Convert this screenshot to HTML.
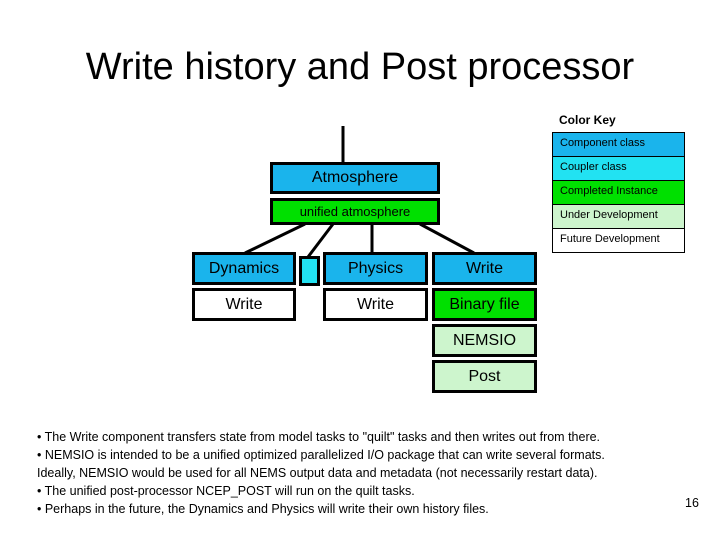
<!DOCTYPE html>
<html><head><meta charset="utf-8"><style>
body{margin:0;width:720px;height:540px;background:#fff;position:relative;font-family:"Liberation Sans",sans-serif;overflow:hidden}
.t{position:absolute;white-space:nowrap}
.b{position:absolute;box-sizing:border-box;border:3px solid #000;text-align:center;color:#000;white-space:nowrap}
.l{position:absolute;box-sizing:border-box;border:1.5px solid #000;font-size:11px;padding-left:7px;line-height:21px}
.blue{background:#1ab4ec}.cyan{background:#22e2f2}.green{background:#00e000}.lg{background:#cdf5cd}.w{background:#fff}
</style></head><body>
<div class="t" style="left:0;width:720px;text-align:center;top:46px;font-size:38px">Write history and Post processor</div>
<div class="t" style="left:559px;top:113px;font-size:12px;font-weight:bold">Color Key</div>
<div class="l blue" style="left:552px;top:132px;width:133px;height:25px">Component class</div>
<div class="l cyan" style="left:552px;top:156px;width:133px;height:25px">Coupler class</div>
<div class="l green" style="left:552px;top:180px;width:133px;height:25px">Completed Instance</div>
<div class="l lg" style="left:552px;top:204px;width:133px;height:25px">Under Development</div>
<div class="l w" style="left:552px;top:228px;width:133px;height:25px">Future Development</div>
<svg style="position:absolute;left:0;top:0" width="720" height="540">
<g stroke="#000" stroke-width="3">
<line x1="343" y1="126" x2="343" y2="163"/>
<line x1="305" y1="224" x2="245" y2="253"/>
<line x1="333" y1="224" x2="308" y2="257"/>
<line x1="372" y1="224" x2="372" y2="253"/>
<line x1="420" y1="224" x2="474" y2="253"/>
</g></svg>
<div class="b blue" style="left:270px;top:162px;width:170px;height:32px;font-size:16px;line-height:26px">Atmosphere</div>
<div class="b green" style="left:270px;top:198px;width:170px;height:27px;font-size:13px;line-height:21px">unified atmosphere</div>
<div class="b blue" style="left:192px;top:252px;width:104px;height:33px;font-size:16px;line-height:27px">Dynamics</div>
<div class="b w" style="left:192px;top:288px;width:104px;height:33px;font-size:16px;line-height:27px">Write</div>
<div class="b cyan" style="left:299px;top:256px;width:21px;height:30px"></div>
<div class="b blue" style="left:323px;top:252px;width:105px;height:33px;font-size:16px;line-height:27px">Physics</div>
<div class="b w" style="left:323px;top:288px;width:105px;height:33px;font-size:16px;line-height:27px">Write</div>
<div class="b blue" style="left:432px;top:252px;width:105px;height:33px;font-size:16px;line-height:27px">Write</div>
<div class="b green" style="left:432px;top:288px;width:105px;height:33px;font-size:16px;line-height:27px">Binary file</div>
<div class="b lg" style="left:432px;top:324px;width:105px;height:33px;font-size:16px;line-height:27px">NEMSIO</div>
<div class="b lg" style="left:432px;top:360px;width:105px;height:33px;font-size:16px;line-height:27px">Post</div>
<div class="t" style="left:37px;top:430px;font-size:12.5px">• The Write component transfers state from model tasks to "quilt" tasks and then writes out from there.</div>
<div class="t" style="left:37px;top:448px;font-size:12.5px">• NEMSIO is intended to be a unified optimized parallelized I/O package that can write several formats.</div>
<div class="t" style="left:37px;top:466px;font-size:12.5px">Ideally, NEMSIO would be used for all NEMS output data and metadata (not necessarily restart data).</div>
<div class="t" style="left:37px;top:484px;font-size:12.5px">• The unified post-processor NCEP_POST will run on the quilt tasks.</div>
<div class="t" style="left:37px;top:502px;font-size:12.5px">• Perhaps in the future, the Dynamics and Physics will write their own history files.</div>
<div class="t" style="left:685px;top:496px;font-size:12.5px">16</div>
</body></html>
